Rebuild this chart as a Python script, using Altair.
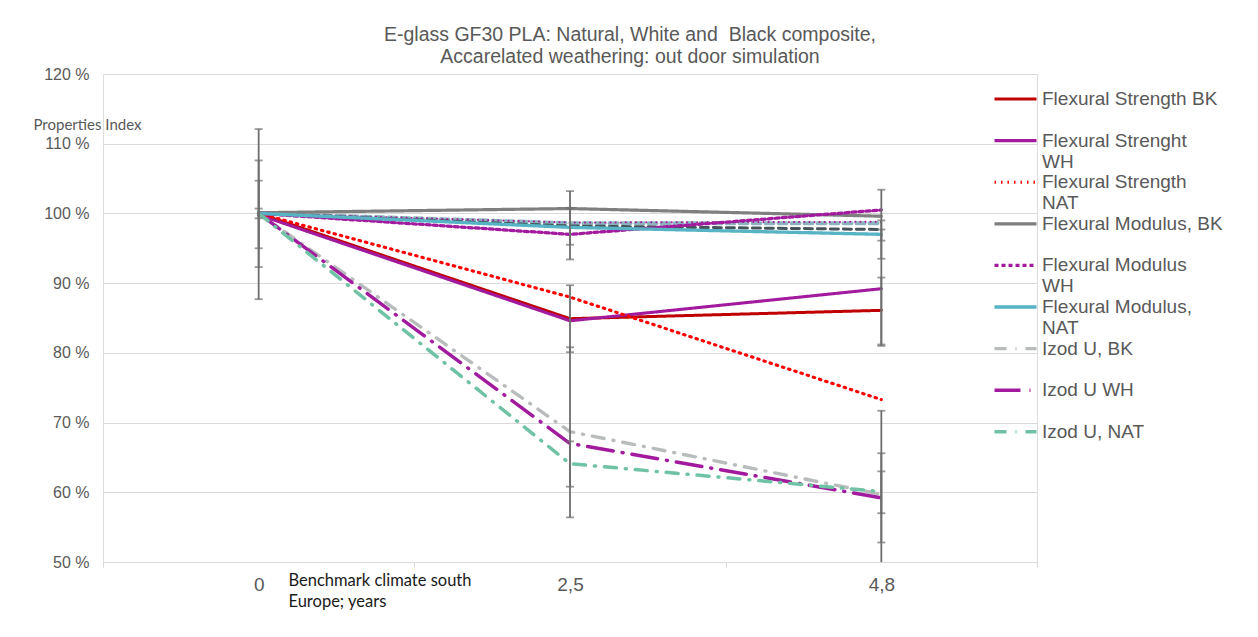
import altair as alt
import pandas as pd

# ---------------- data ----------------
years = ["0", "2,5", "4,8"]

series_names = [
    "Flexural Strength BK",
    "Flexural Strenght|WH",
    "Flexural Strength|NAT",
    "Flexural Modulus, BK",
    "Flexural Modulus|WH",
    "Flexural Modulus,|NAT",
    "Izod U, BK",
    "Izod U WH",
    "Izod U, NAT",
]
fs_bk = [100.0, 84.9, 86.1]
fs_wh = [99.8, 84.6, 89.2]
fs_nat = [100.0, 88.0, 73.3]
fm_bk = [100.1, 100.7, 99.6]
fm_wh = [100.0, 97.0, 100.5]
fm_nat = [100.0, 98.0, 97.0]
izod_bk = [100.0, 68.7, 59.7]
izod_wh = [100.0, 67.0, 59.2]
izod_nat = [100.0, 64.1, 60.1]
series_values = [fs_bk, fs_wh, fs_nat, fm_bk, fm_wh, fm_nat, izod_bk, izod_wh, izod_nat]

series_colors = ["#C00000", "#A21B9E", "#FF0000", "#7F7F7F", "#A21B9E",
                 "#56B4C4", "#B8BCBC", "#A21B9E", "#6FC2A4"]
series_dash = [[1, 0], [1, 0], [1.5, 5], [1, 0], [4, 3],
               [1, 0], [12, 9, 1, 9], [26, 9, 1, 9], [12, 9, 1, 9]]
series_widths = [3, 3.5, 3, 3, 2, 3, 3.5, 4, 3.5]

# unlabelled series (no legend text in the reference)
extra_names = ["extra A", "extra B", "extra C"]
extra_values = [[100.0, 98.6, 98.6], [100.0, 98.2, 97.7], [100.0, 98.7, 98.8]]
extra_colors = ["#8DB4BE", "#45545A", "#A21B9E"]
extra_dash = [[8, 5], [8, 5], [0.1, 5]]
extra_widths = [4, 3, 2]

# error bars (low, high) per year
err_year = ["0", "0", "0", "0",
            "2,5", "2,5", "2,5", "2,5", "2,5",
            "4,8", "4,8", "4,8", "4,8", "4,8", "4,8", "4,8"]
err_low = [87.7, 92.3, 95.0, 99.3,
           93.4, 95.5, 80.1, 56.4, 60.8,
           93.5, 96.1, 81.2, 81.0, 47.7, 57.0, 52.8]
err_high = [112.1, 107.6, 104.7, 100.7,
            103.2, 100.8, 89.7, 80.8, 67.3,
            103.4, 99.0, 90.8, 97.7, 71.7, 63.0, 65.6]

# ---------------- tables ----------------
rows = []
for name, vals in zip(series_names, series_values):
    for yr, v in zip(years, vals):
        rows.append({"series": name, "year": yr, "value": v})
df = pd.DataFrame(rows)

extra_rows = []
for name, vals in zip(extra_names, extra_values):
    for yr, v in zip(years, vals):
        extra_rows.append({"series": name, "year": yr, "value": v})
edf = pd.DataFrame(extra_rows)

err_df = pd.DataFrame({"year": err_year, "low": err_low, "high": err_high})
cap_df = pd.DataFrame({"year": err_year + err_year, "v": err_low + err_high})

# ---------------- encodings ----------------
FONT = "Liberation Sans"
GREY = "#595959"

x_enc = alt.X(
    "year:N", sort=years,
    scale=alt.Scale(type="band", domain=years, paddingInner=0, paddingOuter=0),
    axis=alt.Axis(
        labelAngle=0, labelFont=FONT, labelFontSize=19, labelColor=GREY, labelPadding=8,
        domainColor="#D9D9D9", domainWidth=1, tickColor="#D9D9D9", tickSize=5, tickBand="extent",
        grid=False,
        title=["Benchmark climate south", "Europe; years"],
        titleFont="Lato", titleFontSize=16.5, titleFontWeight="normal", titleColor="#1A1A1A",
        titleX=185, titleY=10, titleAlign="left", titleBaseline="top", titleLineHeight=21,
    ),
)
y_enc = alt.Y(
    "value:Q",
    scale=alt.Scale(domain=[50, 120], nice=False, zero=False),
    axis=alt.Axis(
        values=[50, 60, 70, 80, 90, 100, 110, 120], labelExpr="datum.value + ' %'",
        labelFont=FONT, labelFontSize=16, labelColor=GREY, labelPadding=14,
        domain=False, ticks=False, grid=True, gridColor="#D9D9D9", gridWidth=1,
        title="Properties Index", titleAngle=0, titleX=-70, titleY=50,
        titleAlign="left", titleBaseline="middle",
        titleFont="Lato", titleFontSize=15, titleFontWeight="normal", titleColor=GREY,
    ),
)

leg = alt.Legend(
    title=None, orient="none", legendX=903, legendY=15.5, direction="vertical",
    symbolType="M-3,0H3", symbolSize=196, symbolFillColor="transparent",
    labelFont=FONT, labelFontSize=19, labelColor=GREY, labelLimit=400,
    labelExpr="split(datum.label, '|')", labelOffset=17, labelBaseline="middle",
    gridAlign="all", rowPadding=0.6,
)

extra_layers = []
for name, col, dash, w in zip(extra_names, extra_colors, extra_dash, extra_widths):
    extra_layers.append(
        alt.Chart(edf).transform_filter(alt.datum.series == name)
        .mark_line(color=col, strokeDash=dash, strokeWidth=w, strokeCap="round", clip=True)
        .encode(x=x_enc, y=y_enc)
    )

lines = alt.Chart(df).mark_line(strokeCap="round", strokeJoin="round", clip=True).encode(
    x=x_enc,
    y=y_enc,
    color=alt.Color("series:N", sort=series_names,
                    scale=alt.Scale(domain=series_names, range=series_colors), legend=leg),
    strokeDash=alt.StrokeDash("series:N", sort=series_names,
                              scale=alt.Scale(domain=series_names, range=series_dash), legend=leg),
    strokeWidth=alt.StrokeWidth("series:N", sort=series_names,
                                scale=alt.Scale(domain=series_names, range=series_widths), legend=leg),
)

err_rules = alt.Chart(err_df).mark_rule(color="#6E6E6E", strokeWidth=1.8, clip=True).encode(
    x=alt.X("year:N", sort=years), y=alt.Y("low:Q"), y2="high:Q"
)
err_caps = alt.Chart(cap_df).mark_tick(color="#6E6E6E", size=8, thickness=1.8, clip=True).encode(
    x=alt.X("year:N", sort=years), y=alt.Y("v:Q")
)

chart = alt.layer(*extra_layers, lines, err_rules, err_caps).properties(
    width=934, height=488,
    autosize=alt.AutoSizeParams(type="none"),
    padding={"left": 103, "top": 74, "right": 221, "bottom": 75},
    title=alt.TitleParams(
        text=["E-glass GF30 PLA: Natural, White and\u00a0 Black composite,",
              "Accarelated weathering: out door simulation"],
        font=FONT, fontSize=19.5, fontWeight="normal", color=GREY,
        anchor="middle", dx=60, dy=11, lineHeight=22, offset=10,
    ),
).configure_view(stroke=None).configure(background="white")

chart.save("out.html", embed_options={"renderer": "svg", "actions": False})
